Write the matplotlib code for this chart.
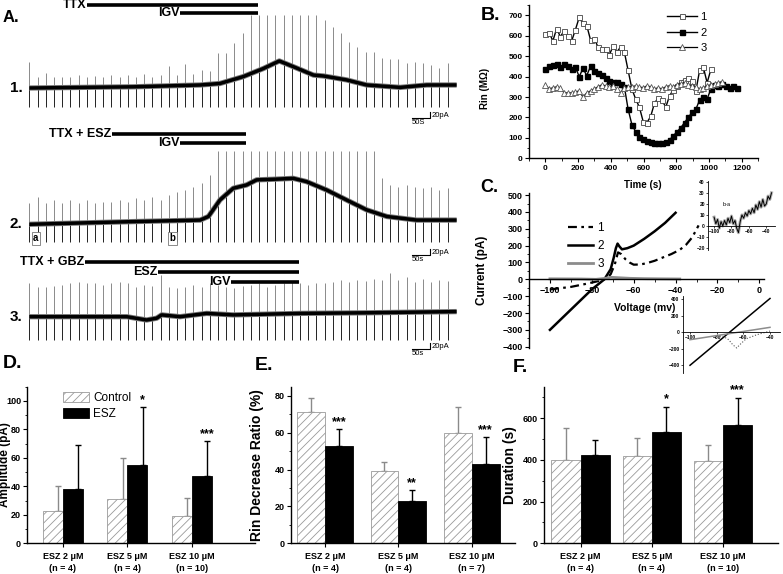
import numpy as np
import matplotlib.pyplot as plt
from matplotlib.ticker import MultipleLocator

plt.rcParams['font.family'] = ['Liberation Sans', 'DejaVu Sans']
plt.rcParams['font.weight'] = 'bold'
plt.rcParams['hatch.linewidth'] = 0.6
plt.rcParams['axes.linewidth'] = 1.0

# ---------------- A. whole-cell traces (test pulse every ~23 s) ----------------
pulse_dt = 22.8  # s

tr1_t = [0, 289, 475, 530, 595, 651, 695, 734, 790, 818, 882, 938, 1031, 1105, 1188]
tr1_i = [0, 4, 10, 15, 38, 65, 90, 71, 43, 40, 27, 10, 2, 10, 10]
tr1_tops = [85, 38, 51, 38, 38, 38, 43, 36, 40, 36, 43, 36, 43, 38, 47, 38, 43, 73, 43, 80,
            47, 60, 58, 115, 115, 151, 184, 243, 243, 243, 243, 243, 243, 243, 243, 243,
            226, 204, 182, 154, 138, 121, 121, 99, 95, 95, 84, 88, 82, 77, 65, 82]
tr1_floor = -62
tr1_drugs = [('TTX', 160, 636, 276), ('IGV', 419, 636, 250)]

tr2_t = [0, 289, 475, 498, 530, 567, 604, 632, 679, 734, 771, 827, 882, 938, 994, 1077, 1188]
tr2_i = [0, 9, 14, 26, 81, 120, 131, 148, 150, 153, 142, 114, 81, 48, 26, 14, 14]
tr2_tops = [70, 90, 70, 81, 70, 81, 70, 81, 70, 75, 75, 81, 75, 87, 81, 92, 81, 98, 109, 114,
            125, 137, 164, 245, 245, 245, 245, 245, 245, 245, 245, 245, 245, 245, 245, 245,
            245, 245, 245, 245, 245, 245, 245, 153, 131, 125, 131, 125, 120, 125, 114, 120]
tr2_floor = -58
tr2_drugs = [('TTX + ESZ', 230, 602, 301), ('IGV', 419, 602, 271)]

tr3_t = [0, 271, 326, 354, 368, 419, 493, 567, 753, 938, 1188]
tr3_i = [0, 0, -11, -5, 6, 0, 11, 6, 11, 13, 17]
tr3_tops = [111, 98, 98, 102, 105, 111, 117, 113, 111, 105, 111, 117, 111, 100, 105, 102, 139,
            98, 94, 100, 105, 100, 111, 105, 100, 94, 102, 105, 111, 100, 105, 111, 117, 111,
            105, 111, 113, 117, 122, 117, 122, 120, 124, 122, 144, 122, 133, 117, 124, 117,
            122, 120]
tr3_floor = -78
tr3_drugs = [('TTX + GBZ', 155, 750, 182), ('ESZ', 358, 750, 149), ('IGV', 561, 750, 116)]

# ---------------- B. input resistance ----------------
rin_dt = 23  # s
rin1 = [610, 615, 575, 635, 595, 625, 600, 575, 630, 690, 660, 650, 580, 585, 545, 535, 535,
        505, 550, 520, 545, 520, 430, 340, 290, 250, 180, 175, 205, 270, 295, 285, 250, 305,
        335, 355, 375, 385, 395, 380, 330, 430, 445, 370, 435]
rin2 = [435, 450, 455, 460, 445, 460, 450, 435, 445, 400, 440, 405, 450, 425, 420, 410, 395,
        380, 375, 375, 365, 350, 240, 165, 130, 105, 95, 85, 78, 75, 76, 74, 78, 90, 110, 130,
        150, 175, 200, 225, 240, 285, 300, 290, 340, 360, 355, 365, 355, 345, 355, 345]
rin3 = [360, 340, 345, 350, 345, 320, 320, 320, 325, 330, 300, 320, 330, 340, 350, 360, 355,
        350, 355, 340, 320, 345, 350, 350, 355, 350, 345, 355, 350, 340, 345, 340, 350, 355,
        350, 360, 365, 370, 360, 355, 350, 340, 345, 355, 360, 365, 370, 375]

# ---------------- C. I-V curves ----------------
iv1_v = [-100, -90, -82, -76, -73, -71, -69, -67.5, -66, -64, -62, -60, -57, -54, -50, -46,
         -42, -38, -35, -32, -29]
iv1_i = [-60, -45, -25, -8, 5, 30, 90, 160, 150, 120, 100, 87, 88, 95, 110, 130, 150, 175,
         205, 250, 320]
iv2_v = [-100, -90, -80, -74, -71, -69.5, -68.5, -67.7, -66.8, -65.6, -63, -60, -55, -50,
         -45, -40]
iv2_i = [-300, -180, -60, 0, 60, 130, 185, 212, 195, 178, 185, 200, 240, 285, 335, 395]
iv3_v = [-100, -85, -78, -74, -71, -68, -62, -55, -48, -38]
iv3_i = [3, 2, 0, 5, 12, 10, 6, 4, 3, 2]

ba_v = np.arange(-100, -33, 2)
ba_i = [8, 2, 6, -2, 4, 0, 5, 1, 7, 3, 9, 2, 5, -2, -6, 4, 10, 7, 12, 9, 14, 11, 16, 12,
        19, 15, 22, 17, 24, 18, 20, 27, 24, 30]

ins_v = [-100, -40]
ins_black = [-400, 410]
ins_gray = [-90, 60]
ins_dot_v = [-80, -75, -71, -68, -65, -62, -58, -50, -40]
ins_dot_i = [-45, -50, -90, -150, -190, -140, -80, -30, 15]

# ---------------- D-F. summary bars ----------------
amp_labels = ['ESZ 2 \u03bcM\n(n = 4)', 'ESZ 5 \u03bcM\n(n = 4)', 'ESZ 10 \u03bcM\n(n = 10)']
amp_ctrl = [23, 31, 19.5]
amp_ctrl_err = [17, 29, 12.5]
amp_esz = [38, 55, 47]
amp_esz_err = [31, 41, 25]
amp_stars = ['', '*', '***']

rin_labels = ['ESZ 2 \u03bcM\n(n = 4)', 'ESZ 5 \u03bcM\n(n = 4)', 'ESZ 10 \u03bcM\n(n = 7)']
rdr_ctrl = [71.5, 39.5, 60]
rdr_ctrl_err = [7.5, 4.5, 14]
rdr_esz = [53, 23, 43]
rdr_esz_err = [9, 6, 14.5]
rdr_stars = ['***', '**', '***']

dur_labels = ['ESZ 2 \u03bcM\n(n = 4)', 'ESZ 5 \u03bcM\n(n = 4)', 'ESZ 10 \u03bcM\n(n = 10)']
dur_ctrl = [400, 420, 395]
dur_ctrl_err = [152, 85, 78]
dur_esz = [422, 533, 567]
dur_esz_err = [73, 122, 131]
dur_stars = ['', '*', '***']


W, H = 783, 574
fig = plt.figure(figsize=(W / 100, H / 100), dpi=100)


def px_axes(left, top, right, bottom):
    ax = fig.add_axes([left / W, 1 - bottom / H, (right - left) / W, (bottom - top) / H])
    ax.patch.set_alpha(0)
    return ax


def fig_text(x, y, s, **kw):
    fig.text(x / W, 1 - y / H, s, **kw)


def label_at(axis, text, x, y, size):
    axis.set_label_text(text, fontsize=size, fontweight='bold')
    axis.set_label_coords(x / W, 1 - y / H, transform=fig.transFigure)


def style(ax, xminor=None, yminor=None, size=6.5):
    for s in ('top', 'right'):
        ax.spines[s].set_visible(False)
    if xminor:
        ax.xaxis.set_minor_locator(MultipleLocator(xminor))
    if yminor:
        ax.yaxis.set_minor_locator(MultipleLocator(yminor))
    ax.tick_params(which='major', length=3, width=0.8, labelsize=size, pad=1.5)
    ax.tick_params(which='minor', length=1.8, width=0.6)


# ---------- panel A ----------
T0, SPP, PPP = 29.3, 2.78, 3.33   # px of t=0, s per px, pA per px


def draw_trace(top, bottom, base, bl_t, bl_i, tops, floor, drugs, name, sb_y, sb_txt):
    ax = px_axes(0, top, 480, bottom)
    ax.set_xlim(-T0 * SPP, (480 - T0) * SPP)
    ax.set_ylim((base - bottom) * PPP, (base - top) * PPP)
    ax.axis('off')
    t_sp = np.arange(len(tops)) * pulse_dt
    at_base = np.interp(t_sp, bl_t, bl_i)
    ax.vlines(t_sp, at_base, tops, color='#8a8a8a', lw=0.7)
    ax.vlines(t_sp, floor, at_base, color='#222222', lw=0.7)
    ax.plot(bl_t, bl_i, color='#7a7a7a', lw=3.8, solid_capstyle='butt')
    ax.plot(bl_t, bl_i, color='black', lw=2.5, solid_capstyle='butt')
    for drug, t_on, t_off, lev in drugs:
        ax.hlines(lev, t_on, t_off, color='black', lw=2.6)
        ax.text(t_on - 2, lev, drug, ha='right', va='center', fontsize=9, fontweight='bold')
    ax.text(-36, 0, name, ha='center', va='center', fontsize=11, fontweight='bold')
    ax.plot([1065, 1115, 1115], [sb_y, sb_y, sb_y + 20], color='black', lw=0.8)
    ax.text(1118, sb_y + 9, '20pA', ha='left', va='center', fontsize=5.5, fontweight='normal')
    ax.text(1062, sb_y - 3, sb_txt, ha='left', va='top', fontsize=5.5, fontweight='normal')
    return ax


draw_trace(0, 132, 88, tr1_t, tr1_i, tr1_tops, tr1_floor, tr1_drugs, '1.', -100, '50S')
ax2 = draw_trace(126, 266, 224.3, tr2_t, tr2_i, tr2_tops, tr2_floor, tr2_drugs, '2.', -102, '50s')
for mark, t_mark in (('a', 18), ('b', 398)):
    ax2.text(t_mark, -46, mark, ha='center', va='center', fontsize=7,
             bbox=dict(boxstyle='square,pad=0.15', fc='white', ec='#777777', lw=0.6))
draw_trace(255, 362, 316.7, tr3_t, tr3_i, tr3_tops, tr3_floor, tr3_drugs, '3.', -109, '50s')

fig_text(3, 17, 'A.', fontsize=12, fontweight='bold', va='center')

# ---------- panel B ----------
axB = px_axes(529, 5.1, 758, 158.3)
axB.plot(np.arange(len(rin1)) * rin_dt, rin1, color='black', lw=1, marker='s', ms=3.6,
         mfc='white', mec='#444444', mew=0.6, label='1')
axB.plot(np.arange(len(rin2)) * rin_dt, rin2, color='black', lw=1, marker='s', ms=3.6,
         mfc='black', mec='black', label='2')
axB.plot(np.arange(len(rin3)) * rin_dt, rin3, color='black', lw=0.9, marker='^', ms=4,
         mfc='white', mec='#555555', mew=0.6, label='3')
axB.set_xlim(-100, 1300)
axB.set_ylim(0, 750)
axB.set_xticks(np.arange(0, 1201, 200))
axB.set_yticks(np.arange(0, 701, 100))
style(axB, 100, 50, size=6)
label_at(axB.yaxis, 'Rin (M\u03a9)', 490, 88, 7)
label_at(axB.xaxis, 'Time (s)', 643, 180, 7)
axB.legend(loc='upper left', bbox_to_anchor=(667 / W, 1 - 12 / H), bbox_transform=fig.transFigure,
           frameon=False, prop={'weight': 'normal', 'size': 8}, handlelength=2.7,
           handletextpad=0.3, labelspacing=0.5, borderpad=0, borderaxespad=0)
fig_text(481, 16, 'B.', fontsize=14, fontweight='bold', va='center')

# ---------- panel C ----------
axC = px_axes(529, 193.4, 763.5, 348.4)
axC.plot(iv1_v, iv1_i, color='black', lw=1.6, ls=(0, (4, 2, 1.2, 2)), label='1')
axC.plot(iv2_v, iv2_i, color='black', lw=1.8, label='2')
axC.plot(iv3_v, iv3_i, color='#8c8c8c', lw=2, label='3')
axC.set_xlim(-110, 2)
axC.set_ylim(-410, 510)
axC.set_xticks(np.arange(-100, 1, 20))
axC.set_yticks(np.arange(-400, 501, 100))
axC.spines['bottom'].set_position(('data', 0))
style(axC, 10, 50, size=6.5)
label_at(axC.yaxis, 'Current (pA)', 488, 270, 8.5)
label_at(axC.xaxis, 'Voltage (mv)', 645, 303, 7.5)
axC.legend(loc='upper left', bbox_to_anchor=(568 / W, 1 - 222 / H), bbox_transform=fig.transFigure,
           frameon=False, prop={'weight': 'normal', 'size': 8.5}, handlelength=2.1,
           handletextpad=0.4, labelspacing=0.5, borderpad=0, borderaxespad=0)
fig_text(480, 188, 'C.', fontsize=13, fontweight='bold', va='center')

# inset: b-a
axI = px_axes(708, 180.6, 775, 250.4)
axI.plot(ba_v, ba_i, color='#b0b0b0', lw=2.2)
axI.plot(ba_v, ba_i, color='black', lw=0.7)
axI.set_xlim(-107, -30)
axI.set_ylim(-22, 41)
axI.set_xticks([-100, -80, -60, -40])
axI.set_yticks(np.arange(-20, 41, 10))
axI.spines['bottom'].set_position(('data', 0))
style(axI, None, None, size=3.5)
axI.tick_params(which='major', length=1.5, width=0.5, pad=0.8)
for s in ('left', 'bottom'):
    axI.spines[s].set_linewidth(0.6)
axI.text(-86, 19, 'b-a', fontsize=4, fontweight='normal', ha='center', va='center')

# inset: linear I-V
axJ = px_axes(682.7, 296, 780, 372.7)
axJ.plot(ins_v, ins_black, color='black', lw=1.1)
axJ.plot(ins_v, ins_gray, color='#8c8c8c', lw=1.1)
axJ.plot(ins_dot_v, ins_dot_i, color='#555555', lw=0.8, ls=':')
axJ.set_xlim(-105.5, -32.5)
axJ.set_ylim(-490, 440)
axJ.set_xticks([-100, -80, -60, -40])
axJ.set_yticks(np.arange(-400, 401, 200))
axJ.spines['bottom'].set_position(('data', 0))
style(axJ, None, None, size=3.5)
axJ.tick_params(which='major', length=1.5, width=0.5, pad=0.8)
for s in ('left', 'bottom'):
    axJ.spines[s].set_linewidth(0.6)


# ---------- panels D-F ----------
def bar_panel(box, ylim, yticks, yminor, xlim, width, ctrl, ctrl_err, esz, esz_err,
              stars, labels, err_shift=0.0, star_pad=5):
    ax = px_axes(*box)
    x = np.arange(1, len(ctrl) + 1)
    xc = x - width / 2
    xe = x + width / 2
    ax.bar(xc, ctrl, width, color='white', edgecolor='#9a9a9a', hatch='////', lw=0.6,
           label='Control', zorder=2)
    ax.bar(xe, esz, width, color='black', edgecolor='black', lw=0.6, label='ESZ', zorder=2)
    zero = np.zeros(len(ctrl))
    ax.errorbar(xc + err_shift, ctrl, yerr=[zero, ctrl_err], fmt='none', ecolor='#8a8a8a',
                elinewidth=1, capsize=2, capthick=1, zorder=1)
    ax.errorbar(xe + err_shift, esz, yerr=[zero, esz_err], fmt='none', ecolor='black',
                elinewidth=1, capsize=2, capthick=1, zorder=1)
    for xi, yi, ei, st in zip(xe + err_shift, esz, esz_err, stars):
        if st:
            ax.annotate(st, (xi, yi + ei), xytext=(0, star_pad), textcoords='offset points',
                        ha='center', va='center', fontsize=9, fontweight='bold')
    ax.set_xlim(*xlim)
    ax.set_ylim(*ylim)
    ax.set_yticks(yticks)
    ax.set_xticks(x)
    ax.set_xticklabels(labels, linespacing=1.45)
    style(ax, None, yminor, size=6.5)
    ax.tick_params(axis='x', pad=3)
    return ax


axD = bar_panel((27.3, 386.7, 255, 543.3), (0, 110), np.arange(0, 101, 20), 10,
                (0.446, 3.98), 0.31, amp_ctrl, amp_ctrl_err, amp_esz, amp_esz_err,
                amp_stars, amp_labels, err_shift=0.08)
label_at(axD.yaxis, 'Amplitude (pA)', 11, 465, 8.5)
axD.legend(loc='upper left', bbox_to_anchor=(63 / W, 1 - 392 / H), bbox_transform=fig.transFigure,
           frameon=False, prop={'weight': 'normal', 'size': 8.5}, handlelength=2.2,
           handleheight=0.85, handletextpad=0.35, labelspacing=0.35, borderpad=0,
           borderaxespad=0)
fig_text(3, 364, 'D.', fontsize=14, fontweight='bold', va='center')

axE = bar_panel((290.7, 386.7, 515, 543.3), (0, 85), np.arange(0, 81, 20), 10,
                (0.532, 3.59), 0.38, rdr_ctrl, rdr_ctrl_err, rdr_esz, rdr_esz_err,
                rdr_stars, rin_labels)
label_at(axE.yaxis, 'Rin Decrease Ratio (%)', 264, 465, 10)
fig_text(255, 366, 'E.', fontsize=14, fontweight='bold', va='center')

axF = bar_panel((544, 386.7, 777.7, 543.3), (0, 750), np.arange(0, 601, 200), 100,
                (0.485, 3.77), 0.41, dur_ctrl, dur_ctrl_err, dur_esz, dur_esz_err,
                dur_stars, dur_labels)
label_at(axF.yaxis, 'Duration (s)', 517, 465, 10)
fig_text(513, 367, 'F.', fontsize=14, fontweight='bold', va='center')

fig.savefig('out.png', dpi=100)
